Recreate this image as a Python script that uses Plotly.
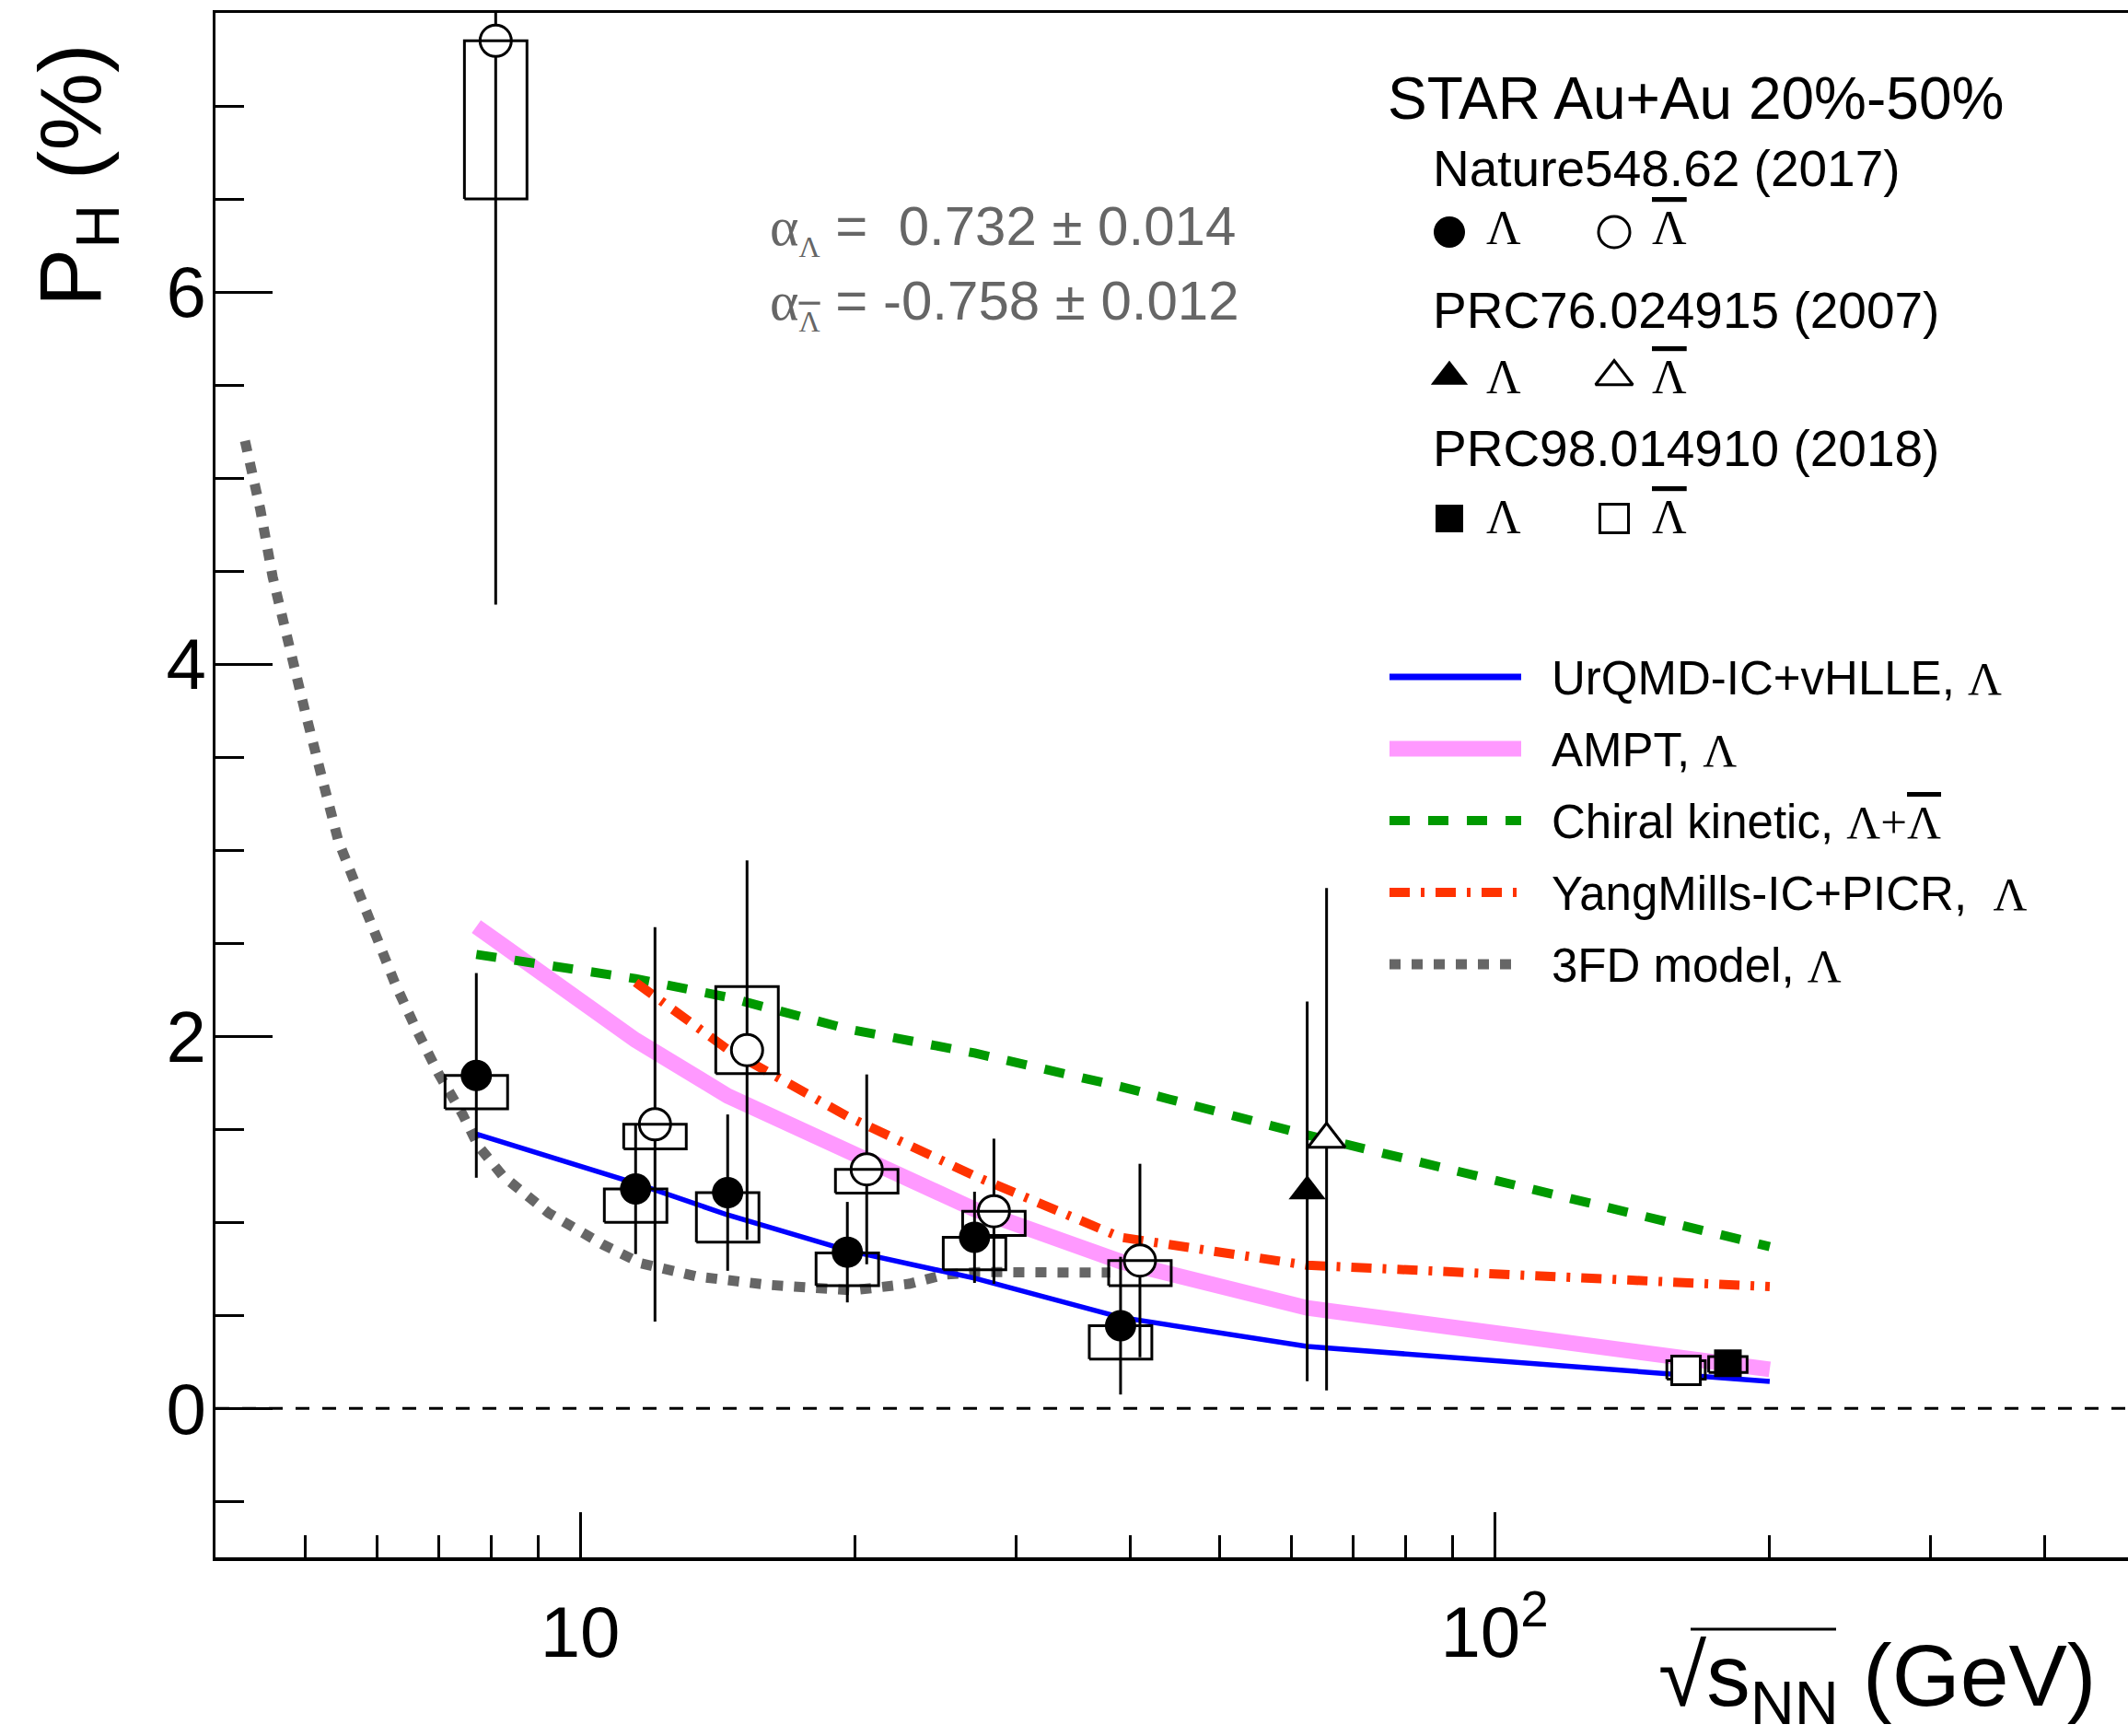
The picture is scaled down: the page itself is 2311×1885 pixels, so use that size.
import plotly.graph_objects as go

# ---------------- data ----------------
# STAR Nature 548, 62 (2017)
nat_energy = [7.7, 11.5, 14.5, 19.6, 27.0, 39.0]
nat_L_P = [1.79, 1.18, 1.16, 0.84, 0.92, 0.445]
nat_L_stat = [0.55, 0.35, 0.42, 0.27, 0.245, 0.37]
nat_L_sys_lo = [1.61, 1.00, 0.894, 0.66, 0.745, 0.265]
nat_L_sys_hi = [1.79, 1.18, 1.16, 0.836, 0.92, 0.445]
nat_AL_P = [7.35, 1.527, 1.926, 1.285, 1.06, 0.795]
nat_AL_stat = [3.03, 1.06, 1.02, 0.51, 0.39, 0.52]
nat_AL_sys_lo = [6.50, 1.395, 1.80, 1.158, 0.93, 0.66]
nat_AL_sys_hi = [7.35, 1.527, 2.267, 1.285, 1.06, 0.795]

# STAR PRC 76, 024915 (2007)
prc07_energy = [62.4]
prc07_L_P = [1.167]
prc07_L_stat = [1.02]
prc07_AL_P = [1.447]
prc07_AL_stat = [1.35]

# STAR PRC 98, 014910 (2018)
prc18_energy = [200.0]
prc18_L_P = [0.243]
prc18_L_stat = [0.035]
prc18_L_sys_lo = [0.193]
prc18_L_sys_hi = [0.279]
prc18_AL_P = [0.205]
prc18_AL_stat = [0.038]
prc18_AL_sys_lo = [0.158]
prc18_AL_sys_hi = [0.257]

# model calculations
model_energy = [7.7, 11.5, 14.5, 19.6, 27.0, 39.0, 62.4, 200.0]
urqmd_P = [1.475, 1.21, 1.04, 0.85, 0.70, 0.49, 0.333, 0.145]
ampt_P = [2.59, 1.98, 1.68, 1.38, 1.07, 0.79, 0.54, 0.21]
chiral_P = [2.44, 2.31, 2.21, 2.04, 1.91, 1.73, 1.47, 0.87]
ym_energy = [11.5, 14.5, 19.6, 27.0, 39.0, 62.4, 200.0]
ym_P = [2.29, 1.93, 1.57, 1.25, 0.92, 0.77, 0.655]
fd3_energy = [4.30, 4.47, 4.61, 4.79, 5.00, 5.22, 5.44, 5.72, 5.99, 6.28, 6.63,
              7.0, 7.44, 7.74, 8.23, 9.24, 10.6, 11.66, 13.4, 16.0, 19.85, 22.9,
              25.1, 27.3, 38.0]
fd3_P = [5.20, 4.83, 4.47, 4.11, 3.75, 3.39, 3.05, 2.78, 2.53, 2.28, 2.03,
         1.80, 1.58, 1.41, 1.25, 1.05, 0.88, 0.78, 0.71, 0.665, 0.635, 0.67,
         0.72, 0.733, 0.73]

x_tick_vals = [10, 100]
x_tick_text = ["10", "10<sup>2</sup>"]
x_minor_vals = [5, 6, 7, 8, 9, 20, 30, 40, 50, 60, 70, 80, 90, 200, 300, 400]
y_tick_vals = [0, 2, 4, 6]
y_tick_text = ["0", "2", "4", "6"]

# ---------------- style / layout constants ----------------
W, H = 2311, 1885
PL, PR, PT, PB = 234, 2311, 14, 1691
X_RANGE = [0.60121, 2.69285]
Y_RANGE = [-0.8, 7.5]
SHIFT_AL = 1.05          # display offset of anti-Lambda points
SHIFT_L18 = 0.90
SHIFT_AL18 = 0.81
BOX_HW_NAT = 0.0342      # half width of sys boxes (decades)
BOX_HW_18 = 0.021
SANS = "Liberation Sans"
SERIF = "Liberation Serif"
BLUE, PINK, GREEN, RED, GRAY = "#0000FF", "#FF99FF", "#009900", "#FF3300", "#666666"
MS_CIRC, MS_TRI, MS_SQ, MS_OSQ = 34, 35, 30, 31


def px(x):
    return (x - PL) / (PR - PL)


def py(y):
    return (PB - y) / (PB - PT)


def sc(vals, f):
    return [v * f for v in vals]


def lam(size=None):
    st = "font-family:%s" % SERIF
    if size:
        st += ";font-size:%dpx" % size
    return '<span style="%s">Λ</span>' % st


def lambar(size=None):
    st = "font-family:%s;text-decoration:overline" % SERIF
    if size:
        st += ";font-size:%dpx" % size
    return '<span style="%s">Λ</span>' % st


fig = go.Figure()

# ---- model curves ----
fig.add_trace(go.Scatter(x=fd3_energy, y=fd3_P, mode="lines",
                         line=dict(color=GRAY, width=11, dash="12px,12px")))
fig.add_trace(go.Scatter(x=model_energy, y=ampt_P, mode="lines",
                         line=dict(color=PINK, width=17)))
fig.add_trace(go.Scatter(x=model_energy, y=chiral_P, mode="lines",
                         line=dict(color=GREEN, width=10, dash="22px,20px")))
fig.add_trace(go.Scatter(x=ym_energy, y=ym_P, mode="lines",
                         line=dict(color=RED, width=10, dash="22px,12px,4px,12px")))
fig.add_trace(go.Scatter(x=model_energy, y=urqmd_P, mode="lines",
                         line=dict(color=BLUE, width=5.5)))


def points(x, y, err, symbol, size, filled):
    return go.Scatter(
        x=x, y=y, mode="markers",
        error_y=dict(type="data", array=err, color="black", thickness=3, width=0),
        marker=dict(symbol=symbol, size=size,
                    color="black" if filled else "white",
                    line=dict(color="black", width=0 if filled else 3)))


def boxes(xc, lo, hi, hw):
    xs, ys = [], []
    for c, a, b in zip(xc, lo, hi):
        x0, x1 = c * 10 ** (-hw), c * 10 ** hw
        xs += [x0, x1, x1, x0, x0, None]
        ys += [a, a, b, b, a, None]
    return go.Scatter(x=xs, y=ys, mode="lines", line=dict(color="black", width=3))


# ---- data ----
fig.add_trace(points(nat_energy, nat_L_P, nat_L_stat, "circle", MS_CIRC, True))
fig.add_trace(points(sc(nat_energy, SHIFT_AL), nat_AL_P, nat_AL_stat, "circle", MS_CIRC, False))
fig.add_trace(points(prc07_energy, prc07_L_P, prc07_L_stat, "triangle-up", MS_TRI, True))
fig.add_trace(points(sc(prc07_energy, SHIFT_AL), prc07_AL_P, prc07_AL_stat, "triangle-up", MS_TRI, False))
fig.add_trace(boxes(nat_energy, nat_L_sys_lo, nat_L_sys_hi, BOX_HW_NAT))
fig.add_trace(boxes(sc(nat_energy, SHIFT_AL), nat_AL_sys_lo, nat_AL_sys_hi, BOX_HW_NAT))
fig.add_trace(boxes(sc(prc18_energy, SHIFT_AL18), prc18_AL_sys_lo, prc18_AL_sys_hi, BOX_HW_18))
fig.add_trace(points(sc(prc18_energy, SHIFT_AL18), prc18_AL_P, prc18_AL_stat, "square", MS_OSQ, False))
fig.add_trace(boxes(sc(prc18_energy, SHIFT_L18), prc18_L_sys_lo, prc18_L_sys_hi, BOX_HW_18))
fig.add_trace(points(sc(prc18_energy, SHIFT_L18), prc18_L_P, prc18_L_stat, "square", MS_SQ, True))

# ---- legend keys (overlay axes in paper-like units) ----
key_x_f, key_x_o = px(1574), px(1753)
key_rows = [(py(252), "circle", MS_CIRC), (py(409), "triangle-up", MS_TRI), (py(563), "square", MS_SQ)]
for yy, sym, ms in key_rows:
    fig.add_trace(go.Scatter(x=[key_x_f], y=[yy], mode="markers", xaxis="x2", yaxis="y2",
                             marker=dict(symbol=sym, size=ms, color="black", line=dict(width=0))))
    fig.add_trace(go.Scatter(x=[key_x_o], y=[yy], mode="markers", xaxis="x2", yaxis="y2",
                             marker=dict(symbol=sym, size=ms if sym != "square" else MS_OSQ,
                                         color="white", line=dict(color="black", width=3))))

model_keys = [
    (735, dict(color=BLUE, width=7), "UrQMD-IC+vHLLE, " + lam()),
    (813, dict(color=PINK, width=17), "AMPT, " + lam()),
    (891, dict(color=GREEN, width=10, dash="22px,20px"),
     "Chiral kinetic, " + lam() + '<span style="font-family:%s">+</span>' % SERIF + lambar()),
    (969, dict(color=RED, width=10, dash="22px,12px,4px,12px"), "YangMills-IC+PICR,\u00a0 " + lam()),
    (1047, dict(color=GRAY, width=11, dash="12px,12px"), "3FD model, " + lam()),
]
annotations = []
for yline, lstyle, label in model_keys:
    fig.add_trace(go.Scatter(x=[px(1509), px(1652)], y=[py(yline), py(yline)], mode="lines",
                             xaxis="x2", yaxis="y2", line=lstyle))
    annotations.append(dict(text=label, x=px(1683), y=py(yline + 17 - 0.905 * 51),
                            xanchor="left", yanchor="top", font=dict(size=51)))


def txt(text, x, baseline, size, color="black", anchor="left"):
    return dict(text=text, x=px(x), y=py(baseline - 0.905 * size), xanchor=anchor,
                yanchor="top", font=dict(size=size, color=color))


annotations += [
    txt("STAR Au+Au 20%-50%", 1505, 126.5, 64),
    txt("Nature548.62 (2017)", 1554, 199.7, 55),
    txt("PRC76.024915 (2007)", 1554, 354, 55),
    txt("PRC98.014910 (2018)", 1554, 504, 55),
]
for base in (263, 425, 577):
    annotations.append(dict(text=lam(), x=px(1612), y=py(base - 0.891 * 52), xanchor="left",
                            yanchor="top", font=dict(size=52, family=SERIF)))
    annotations.append(dict(text=lambar(), x=px(1792), y=py(base - 0.891 * 52), xanchor="left",
                            yanchor="top", font=dict(size=52, family=SERIF)))

alpha = '<span style="font-family:%s">α</span>' % SERIF
annotations += [
    txt(alpha + "<sub>" + lam(32) + "</sub> =\u00a0\u00a00.732 ± 0.014", 834, 264, 60, GRAY),
    txt(alpha + "<sub>" + lambar(32) + "</sub> = -0.758 ± 0.012", 834, 345, 60, GRAY),
    txt("√s<sub>NN</sub> (GeV)", 2278, 1850, 95, anchor="right"),
    dict(text="P<sub>H</sub> (%)", textangle=-90, x=px(21), y=py(45), xanchor="left",
         yanchor="top", font=dict(size=95)),
]
for a in annotations:
    a.setdefault("showarrow", False)
    a.setdefault("xref", "paper")
    a.setdefault("yref", "paper")
    a["font"].setdefault("family", SANS)
    a["font"].setdefault("color", "black")

shapes = [
    dict(type="line", xref="paper", x0=0, x1=1, yref="y", y0=0, y1=0,
         line=dict(color="black", width=3, dash="15px,14px")),
    dict(type="line", xref="paper", yref="paper", x0=px(1836), x1=px(1994),
         y0=py(1769), y1=py(1769), line=dict(color="black", width=3)),
]

fig.update_layout(
    width=W, height=H, autosize=False,
    margin=dict(l=PL, r=W - PR, t=PT, b=H - PB, pad=0),
    paper_bgcolor="white", plot_bgcolor="white",
    showlegend=False,
    font=dict(family=SANS, color="black"),
    annotations=annotations, shapes=shapes,
    xaxis=dict(type="log", range=X_RANGE, showgrid=False, zeroline=False,
               showline=True, linecolor="black", linewidth=3.5, mirror=True,
               ticks="inside", ticklen=49, tickwidth=3, tickcolor="black",
               tickmode="array", tickvals=x_tick_vals, ticktext=x_tick_text,
               tickfont=dict(size=78, family=SANS, color="black"), ticklabelstandoff=11,
               minor=dict(tickmode="array", tickvals=x_minor_vals, ticks="inside",
                          ticklen=24, tickwidth=3, tickcolor="black", showgrid=False)),
    yaxis=dict(range=Y_RANGE, showgrid=False, zeroline=False,
               showline=True, linecolor="black", linewidth=3.5, mirror=False,
               ticks="inside", ticklen=62, tickwidth=3, tickcolor="black",
               tickmode="array", tickvals=y_tick_vals, ticktext=y_tick_text,
               tickfont=dict(size=78, family=SANS, color="black"), ticklabelstandoff=-9,
               minor=dict(tickmode="linear", tick0=0, dtick=0.5, ticks="inside",
                          ticklen=31, tickwidth=3, tickcolor="black", showgrid=False)),
    xaxis2=dict(overlaying="x", range=[0, 1], visible=False, fixedrange=True),
    yaxis2=dict(overlaying="y", range=[0, 1], visible=False, fixedrange=True),
)
fig.update_traces(hoverinfo="skip", showlegend=False)

fig.write_html("out.html", config={"displayModeBar": False, "staticPlot": True},
               post_script="document.body.style.margin='0';")
